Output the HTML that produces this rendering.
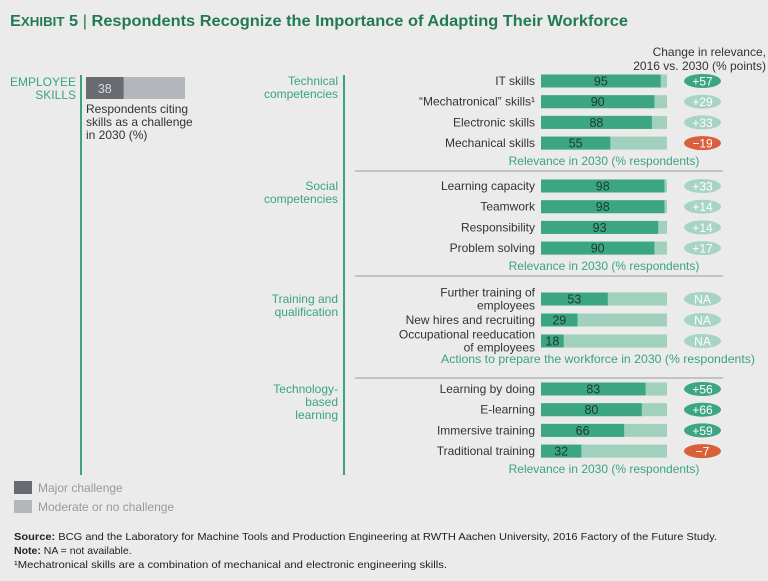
<!DOCTYPE html>
<html><head><meta charset="utf-8"><style>
html,body{margin:0;padding:0;background:#ebebeb;}
svg{display:block;font-family:"Liberation Sans Narrow","Liberation Sans",sans-serif;}
</style></head><body>
<svg id="chart" width="768" height="581" viewBox="0 0 768 581" xmlns="http://www.w3.org/2000/svg">
<rect width="768" height="581" fill="#ebebeb"/>
<text x="10" y="26" font-size="16" font-weight="bold" fill="#217a52" textLength="618" lengthAdjust="spacingAndGlyphs"><tspan>E</tspan><tspan font-size="13">XHIBIT</tspan> 5 <tspan font-weight="normal">|</tspan> Respondents Recognize the Importance of Adapting Their Workforce</text>
<text x="766" y="56" font-size="12" fill="#333" text-anchor="end">Change in relevance,</text>
<text x="766" y="70" font-size="12" fill="#333" text-anchor="end">2016 vs. 2030 (% points)</text>
<line x1="81" y1="75" x2="81" y2="475" stroke="#3aa384" stroke-width="2"/>
<line x1="344" y1="75" x2="344" y2="475" stroke="#3aa384" stroke-width="2"/>
<text x="76" y="86" font-size="12" fill="#3aa384" text-anchor="end">EMPLOYEE</text>
<text x="76" y="99" font-size="12" fill="#3aa384" text-anchor="end">SKILLS</text>
<g id="challenge"></g>
<text x="86" y="113" font-size="12" fill="#333">Respondents citing</text>
<text x="86" y="126" font-size="12" fill="#333">skills as a challenge</text>
<text x="86" y="139" font-size="12" fill="#333">in 2030 (%)</text>
<g id="rows"></g>
<rect x="14" y="481" width="18" height="13" fill="#676c72"/>
<text x="38" y="492" font-size="12" fill="#999">Major challenge</text>
<rect x="14" y="500" width="18" height="13" fill="#b3b7bb"/>
<text x="38" y="511" font-size="12" fill="#999">Moderate or no challenge</text>
<text x="14" y="540" font-size="10.5" fill="#222" textLength="703" lengthAdjust="spacingAndGlyphs"><tspan font-weight="bold">Source:</tspan> BCG and the Laboratory for Machine Tools and Production Engineering at RWTH Aachen University, 2016 Factory of the Future Study.</text>
<text x="14" y="554" font-size="10.5" fill="#222"><tspan font-weight="bold">Note:</tspan> NA = not available.</text>
<text x="14" y="568" font-size="10.5" fill="#222" textLength="433" lengthAdjust="spacingAndGlyphs">¹Mechatronical skills are a combination of mechanical and electronic engineering skills.</text>
</svg>
<script>
const challengeValue = 38;
const groupNames = ["Technical|competencies","Social|competencies","Training and|qualification","Technology-|based|learning"];
const groupCaptions = ["Relevance in 2030 (% respondents)","Relevance in 2030 (% respondents)","Actions to prepare the workforce in 2030 (% respondents)","Relevance in 2030 (% respondents)"];
const rowLabels = [
 ["IT skills","“Mechatronical” skills¹","Electronic skills","Mechanical skills"],
 ["Learning capacity","Teamwork","Responsibility","Problem solving"],
 ["Further training of|employees","New hires and recruiting","Occupational reeducation|of employees"],
 ["Learning by doing","E-learning","Immersive training","Traditional training"]];
const rowValues = [[95,90,88,55],[98,98,93,90],[53,29,18],[83,80,66,32]];
const changeValues = [[57,29,33,-19],[33,14,14,17],[null,null,null],[56,66,59,-7]];
const NS="http://www.w3.org/2000/svg";
function mk(tag,attrs,parent,text){const e=document.createElementNS(NS,tag);for(const k in attrs)e.setAttribute(k,attrs[k]);if(text!==undefined)e.textContent=text;parent.appendChild(e);return e;}
const cg=document.getElementById('challenge');
const cx=(v)=>86+v/100*99;
let r=mk('rect',{x:86,y:77,width:99,height:22,fill:'#b3b7bb'},cg);


r=mk('rect',{x:86,y:77,width:cx(challengeValue)-86,height:22,fill:'#676c72'},cg);


let t=mk('text',{x:(86+cx(challengeValue))/2,y:93,'font-size':12.5,fill:'#ddd','text-anchor':'middle'},cg,String(challengeValue));


const xs=(v)=>541+v/100*126;
const groupTop=[81,186,299,389];
const rowStep=[20.7,20.7,21,20.7];
const capX=[604,604,598,604];
const rowsG=document.getElementById('rows');
const dividerY=[171,276,378];
dividerY.forEach((y,i)=>{const l=mk('line',{x1:355,x2:723,y1:y,y2:y,stroke:'#999','stroke-width':1},rowsG);

});
groupNames.forEach((gn,gi)=>{
 const g=mk('g',{},rowsG);
 
 
 gn.split('|').forEach((ln,li)=>{const tx=mk('text',{x:338,y:groupTop[gi]+4+li*13,'font-size':12,fill:'#3aa384','text-anchor':'end'},g,ln);
 
 });
 let lastY=0;
 rowValues[gi].forEach((v,ri)=>{
  const cy=groupTop[gi]+ri*rowStep[gi];lastY=cy;
  const lines=rowLabels[gi][ri].split('|');
  lines.forEach((ln,li)=>{const tx=mk('text',{x:535,y:cy+4+(li-(lines.length-1)/2)*13,'font-size':12,fill:'#333','text-anchor':'end'},g,ln);
  
  });
  let b=mk('rect',{x:541,y:cy-6.5,width:126,height:13,fill:'#9fd1bd'},g);
  
  
  b=mk('rect',{x:541,y:cy-6.5,width:xs(v)-541,height:13,fill:'#3ca582'},g);
  
  
  const vt=mk('text',{x:(541+xs(v))/2,y:cy+4.5,'font-size':12.5,fill:'#1d3a2f','text-anchor':'middle'},g,String(v));
  
  
  const c=changeValues[gi][ri];
  const col=c===null?'#a8d5c3':(c<0?'#d9603b':(c>=50?'#3ca582':'#a8d5c3'));
  const p=mk('ellipse',{cx:702.5,cy:cy,rx:18.5,ry:7,fill:col},g);
  
  
  const pt=mk('text',{x:702.5,y:cy+4.5,'font-size':12,fill:'#fff','text-anchor':'middle'},g,c===null?'NA':(c>0?'+'+c:'−'+Math.abs(c)));
  
  
 });
 const cap=mk('text',{x:capX[gi],y:lastY+22,'font-size':12,fill:'#3aa384','text-anchor':'middle'},g,groupCaptions[gi]);
 if(gi===2){cap.setAttribute('textLength','314');cap.setAttribute('lengthAdjust','spacingAndGlyphs');}
 
 
});
</script>
</body></html>
